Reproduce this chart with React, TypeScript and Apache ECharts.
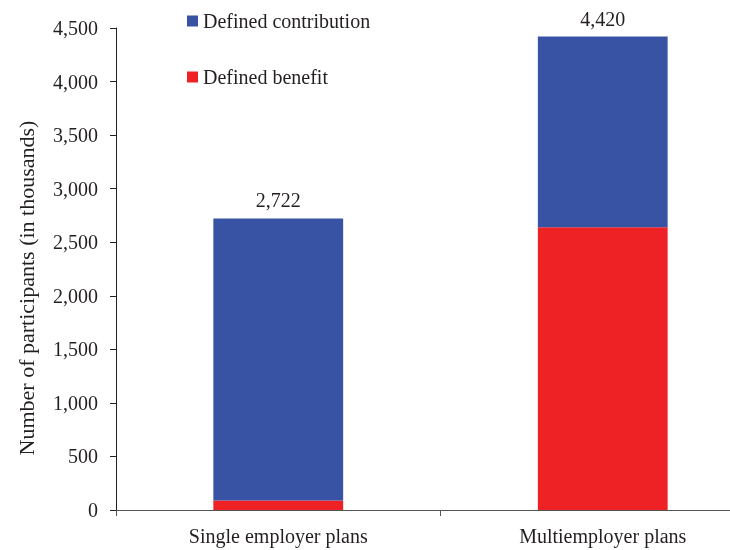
import React, { useEffect, useRef } from "react";
import * as echarts from "echarts";

const categories = ["Single employer plans", "Multiemployer plans"];
const definedBenefit = [88, 2640];
const definedContribution = [2634, 1780];
const yTicks = { min: 0, max: 4500, interval: 500 };
const yAxisTitle = "Number of participants (in thousands)";

const FONT = "Liberation Serif";
const TEXT = "#231F20";
const FS = 20;

export default function App() {
  const ref = useRef<HTMLDivElement>(null);
  useEffect(() => {
    if (!ref.current) return;
    const chart = echarts.init(ref.current, undefined, { renderer: "svg" });
    chart.setOption({
      animation: false,
      textStyle: { fontFamily: FONT, color: TEXT },
      legend: {
        data: ["Defined contribution", "Defined benefit"],
        orient: "vertical",
        left: 182,
        top: 6,
        itemWidth: 11,
        itemHeight: 11,
        itemGap: 36,
        icon: "rect",
        textStyle: { fontFamily: FONT, fontSize: FS, color: TEXT },
      },
      graphic: [
        {
          type: "text",
          x: 26,
          y: 288,
          rotation: Math.PI / 2,
          style: {
            text: yAxisTitle,
            fontFamily: FONT,
            fontSize: 22,
            fill: TEXT,
            align: "center",
            verticalAlign: "middle",
          },
        },
      ],
      grid: { left: 116, right: 0, top: 28, bottom: 40, containLabel: false },
      xAxis: {
        type: "category",
        data: categories,
        axisLine: { lineStyle: { color: "#555", width: 1 } },
        axisTick: { show: true, length: 6, lineStyle: { color: "#555" } },
        axisLabel: { fontFamily: FONT, fontSize: FS, color: TEXT, margin: 16 },
      },
      yAxis: {
        type: "value",
        min: yTicks.min,
        max: yTicks.max,
        interval: yTicks.interval,
        splitLine: { show: false },
        axisLine: { show: true, lineStyle: { color: "#231F20", width: 1 } },
        axisTick: { show: true, length: 6, lineStyle: { color: "#231F20" } },
        axisLabel: {
          fontFamily: FONT,
          fontSize: FS,
          color: TEXT,
          margin: 18,
          formatter: (v: number) => v.toLocaleString("en-US"),
        },
      },
      series: [
        {
          name: "Defined benefit",
          type: "bar",
          stack: "total",
          data: definedBenefit,
          barWidth: "40%",
          itemStyle: { color: "#EE2224" },
        },
        {
          name: "Defined contribution",
          type: "bar",
          stack: "total",
          data: definedContribution,
          barWidth: "40%",
          itemStyle: { color: "#3953A4" },
          label: {
            show: true,
            position: "top",
            distance: 8,
            fontFamily: FONT,
            fontSize: FS,
            color: TEXT,
            formatter: (p: any) =>
              (definedBenefit[p.dataIndex] + definedContribution[p.dataIndex]).toLocaleString("en-US"),
          },
        },
      ],
    });
    return () => chart.dispose();
  }, []);
  return (
    <div
      ref={ref}
      style={{ position: "fixed", left: 0, top: 0, width: 765, height: 550 }}
    />
  );
}
